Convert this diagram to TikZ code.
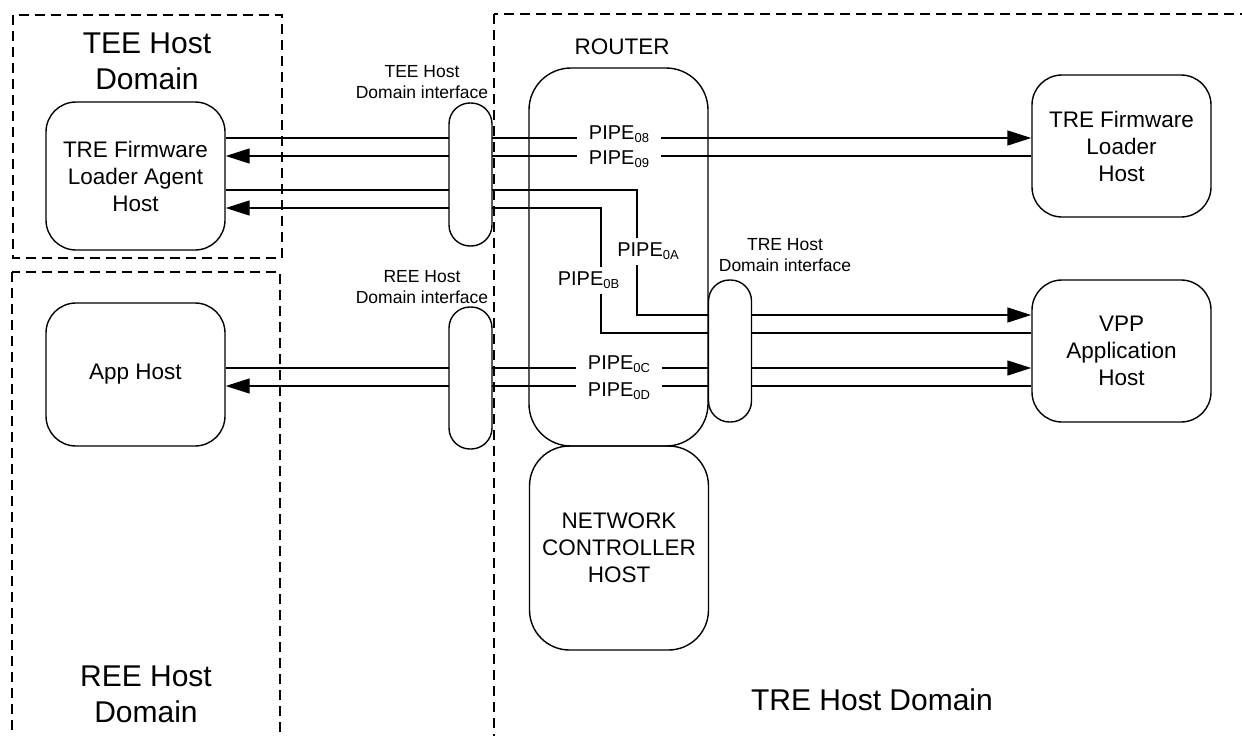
\documentclass[tikz,border=0pt]{standalone}
\usepackage{fontspec}
\setmainfont{Liberation Sans}
\usetikzlibrary{arrows.meta,calc}
\newcommand{\pipesub}[1]{PIPE\raisebox{-3pt}{\fontsize{13}{13}\selectfont #1}}
\begin{document}
\begin{tikzpicture}[x=1pt,y=-1pt,
  box/.style={draw,line width=1.4pt,rounded corners=30pt,align=center,
    font=\fontsize{22.5}{27}\selectfont,inner sep=0pt},
  capsule/.style={draw,fill=white,line width=1.4pt,rounded corners=21pt,
    minimum width=43pt,inner sep=0pt},
  dom/.style={line width=1.4pt,dash pattern=on 10pt off 6pt},
  title/.style={font=\fontsize{30}{36}\selectfont,align=center,inner sep=0pt},
  small/.style={font=\fontsize{17.5}{21.5}\selectfont,align=center,inner sep=0pt},
  pipeh/.style={fill=white,inner xsep=12pt,inner ysep=1pt,font=\fontsize{20}{24}\selectfont},
  pipev/.style={fill=white,inner xsep=3pt,inner ysep=5pt,font=\fontsize{20}{24}\selectfont},
  conn/.style={line width=1.4pt},
  arr/.style={conn,-{Triangle[length=24pt,width=15pt]}},
]
\useasboundingbox (0,0) rectangle (1242,736);

% domains
\draw[dom] (13,15) rectangle (282,258);
\draw[dom] (12,272) rectangle (280,760);
\draw[dom] (494,14) rectangle (1270,760);
\node[title] (teetitle) at (147,61) {TEE Host\\Domain};
\node[title] (reetitle) at (146,694) {REE Host\\Domain};
\node[title] (tretitle) at (872,700) {TRE Host Domain};

% hosts
\node[box,minimum width=179pt,minimum height=148pt] (agent) at (135.5,176) {TRE Firmware\\Loader Agent\\Host};
\node[box,minimum width=179pt,minimum height=143pt] (app) at (135.5,374.5) {App Host};
\node[box,rounded corners=42pt,minimum width=179pt,minimum height=378pt] (router) at (618.5,257) {};
\node[font=\fontsize{22.5}{27}\selectfont] (routerlbl) at (622,47) {ROUTER};
\node[box,rounded corners=40pt,minimum width=179pt,minimum height=204pt] (nc) at (619,548) {NETWORK\\CONTROLLER\\HOST};
\node[box,minimum width=179pt,minimum height=142pt] (fwl) at (1121.5,146) {TRE Firmware\\Loader\\Host};
\node[box,minimum width=179pt,minimum height=142pt] (vpp) at (1121.5,351) {VPP\\Application\\Host};

% rows
\coordinate (r08) at (0,138);
\coordinate (r09) at (0,156);
\coordinate (r0a) at (0,190);
\coordinate (r0b) at (0,208);
\coordinate (r0a2) at (0,315);
\coordinate (r0b2) at (0,333);
\coordinate (r0c) at (0,368);
\coordinate (r0d) at (0,386);
\coordinate (ka1) at (637,190);
\coordinate (ka2) at (637,315);
\coordinate (kb1) at (601,208);
\coordinate (kb2) at (601,333);

% connectors
\draw[arr] (agent.east |- r08) -- (fwl.west |- r08);
\draw[arr] (fwl.west |- r09) -- (agent.east |- r09);
\draw[arr] (agent.east |- r0a) -- (ka1) -- (ka2) -- (vpp.west |- r0a2);
\draw[arr] (vpp.west |- r0b2) -- (kb2) -- (kb1) -- (agent.east |- r0b);
\draw[arr] (app.east |- r0c) -- (vpp.west |- r0c);
\draw[arr] (vpp.west |- r0d) -- (app.east |- r0d);

% interfaces
\node[capsule,minimum height=143pt] (teeif) at (470.5,174.5) {};
\node[capsule,minimum height=142pt] (reeif) at (470.5,378) {};
\node[capsule,minimum height=142pt] (treif) at (730,351) {};
\node[small] (teelbl) at (422,82) {TEE Host\\Domain interface};
\node[small] (reelbl) at (422,287) {REE Host\\Domain interface};
\node[small] (trelbl) at (785,255) {TRE Host\\Domain interface};

% pipe labels
\node[pipeh] (l08) at (619,134.5) {\pipesub{08}};
\node[pipeh] (l09) at (619,159.5) {\pipesub{09}};
\node[pipev] (l0a) at (648,251.5) {\pipesub{0A}};
\node[pipev] (l0b) at (588.5,280.5) {\pipesub{0B}};
\node[pipeh] (l0c) at (619,364) {\pipesub{0C}};
\node[pipeh] (l0d) at (619,391) {\pipesub{0D}};
\end{tikzpicture}
\end{document}
